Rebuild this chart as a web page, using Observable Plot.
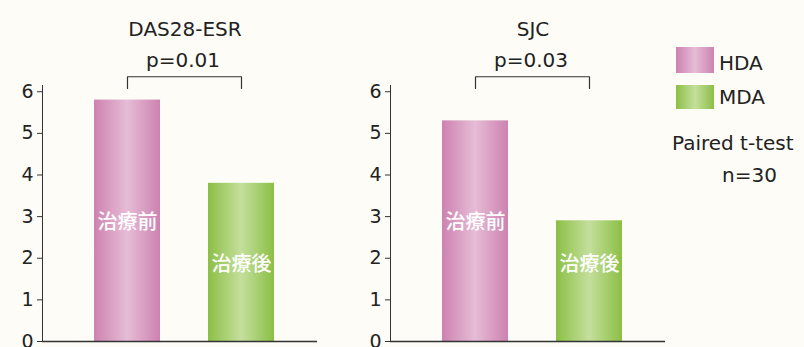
<!DOCTYPE html>
<html>
<head>
<meta charset="utf-8">
<script src="https://cdn.jsdelivr.net/npm/d3@7"></script>
<script src="https://cdn.jsdelivr.net/npm/@observablehq/plot@0.6"></script>
<style>
  html, body { margin: 0; padding: 0; background: #fdfcf6; }
  #chart { position: relative; width: 804px; height: 347px; overflow: hidden; background: #fdfcf6;
           font-family: "DejaVu Sans", sans-serif; color: #222; }
  .panel { position: absolute; top: 0; }
  .legend-item { position: absolute; font-size: 20px; line-height: 20px; white-space: nowrap; }
  .swatch { position: absolute; width: 38px; }
</style>
</head>
<body>
<div id="chart">
  <svg width="0" height="0" style="position:absolute">
    <defs>
      <linearGradient id="fill-hda" x1="0" x2="1" y1="0" y2="0">
        <stop offset="0" stop-color="#cd82b0"/>
        <stop offset="0.5" stop-color="#e6bcd6"/>
        <stop offset="1" stop-color="#cd82b0"/>
      </linearGradient>
      <linearGradient id="fill-mda" x1="0" x2="1" y1="0" y2="0">
        <stop offset="0" stop-color="#8cbf45"/>
        <stop offset="0.5" stop-color="#c4df9c"/>
        <stop offset="1" stop-color="#8cbf45"/>
      </linearGradient>
    </defs>
  </svg>
</div>
<script>
// Panels and their annotations
const panels = ["DAS28-ESR", "SJC"];
const pValues = ["p=0.01", "p=0.03"];

// Bar categories (before / after treatment) and the disease-activity group of each
const phases = ["治療前", "治療後"];
const groups = ["HDA", "MDA"];

// Mean values per panel
const das28Values = [5.8, 3.8];
const sjcValues = [5.3, 2.9];

// Height at which the in-bar labels sit
const labelLevels = [2.85, 1.85];

// Axis ticks and bracket levels
const yTicks = [0, 1, 2, 3, 4, 5, 6];
const bracketTop = 6.36;
const bracketFoot = 6.08;

// Legend text
const legendNote = ["Paired t-test", "n=30"];

const groupFills = ["url(#fill-hda)", "url(#fill-mda)"];
const chart = document.getElementById("chart");

function panel(title, pText, values) {
  const rows = phases.map((phase, i) => ({
    phase, group: groups[i], value: values[i], labelY: labelLevels[i]
  }));
  const bracket = [
    {phase: phases[0], y: bracketFoot},
    {phase: phases[0], y: bracketTop},
    {phase: phases[1], y: bracketTop},
    {phase: phases[1], y: bracketFoot}
  ];
  return Plot.plot({
    width: 320,
    height: 347,
    marginLeft: 42,
    marginRight: 3,
    marginTop: 85,
    marginBottom: 6,
    style: {background: "transparent", fontFamily: "DejaVu Sans, sans-serif", fontSize: "19px", color: "#222", overflow: "visible"},
    x: {domain: phases, paddingInner: 0.417, paddingOuter: 0.414, align: 0.55, axis: null},
    y: {domain: [0, 6.15], axis: null},
    color: {domain: groups, range: groupFills},
    marks: [
      Plot.frame({anchor: "left", stroke: "#333", strokeWidth: 1}),
      Plot.axisY({ticks: yTicks, tickFormat: "d", tickSize: 5, tickPadding: 4, stroke: "#333", fill: "#222", fontSize: 19, label: null}),
      Plot.barY(rows, {x: "phase", y: "value", fill: "group"}),
      Plot.ruleY([0], {stroke: "#333", strokeWidth: 1.6}),
      Plot.text(rows, {x: "phase", y: "labelY", text: "phase", fill: "white",
        fontFamily: "Noto Sans CJK JP, sans-serif", fontSize: 20, fontWeight: 500}),
      Plot.line(bracket, {x: "phase", y: "y", stroke: "#333", strokeWidth: 1.2}),
      Plot.text([pText], {frameAnchor: "middle", y: bracketTop, text: d => d, dx: 3, dy: -10,
        lineAnchor: "bottom", fontSize: 20, fill: "#222"}),
      Plot.text([title], {frameAnchor: "middle", y: bracketTop, text: d => d, dx: 5, dy: -41,
        lineAnchor: "bottom", fontSize: 20, fill: "#222"})
    ]
  });
}

const left = panel(panels[0], pValues[0], das28Values);
left.classList.add("panel");
left.style.left = "0px";
chart.appendChild(left);

const right = panel(panels[1], pValues[1], sjcValues);
right.classList.add("panel");
right.style.left = "348px";
chart.appendChild(right);

// Legend: group swatches and test note
const swatchTops = [47, 85];
const swatchHeights = [26, 24];
const labelTops = [53, 87];
groups.forEach((g, i) => {
  const sw = document.createElement("div");
  sw.className = "swatch";
  sw.style.left = "676px";
  sw.style.top = swatchTops[i] + "px";
  sw.style.height = swatchHeights[i] + "px";
  const [edge, mid] = i === 0 ? ["#cd82b0", "#e6bcd6"] : ["#8cbf45", "#c4df9c"];
  sw.style.background = `linear-gradient(to right, ${edge}, ${mid}, ${edge})`;
  chart.appendChild(sw);
  const lab = document.createElement("div");
  lab.className = "legend-item";
  lab.style.left = "719px";
  lab.style.top = labelTops[i] + "px";
  lab.textContent = g;
  chart.appendChild(lab);
});
const noteLefts = [672, 722];
const noteTops = [133, 165];
legendNote.forEach((t, i) => {
  const n = document.createElement("div");
  n.className = "legend-item";
  n.style.left = noteLefts[i] + "px";
  n.style.top = noteTops[i] + "px";
  n.textContent = t;
  chart.appendChild(n);
});
</script>
</body>
</html>
